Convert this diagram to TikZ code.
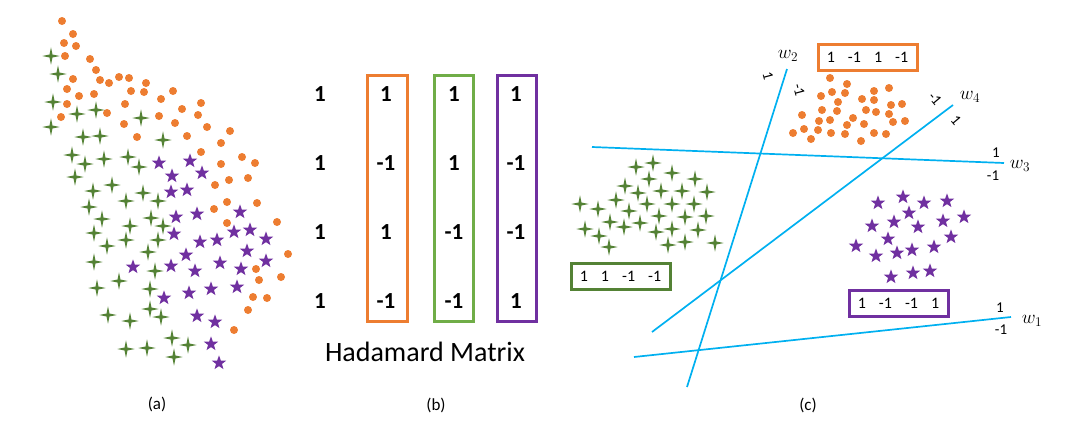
\documentclass[tikz,border=0pt]{standalone}
\usepackage{fix-cm}
\usepackage{fontspec}
\setmainfont{Carlito}
\definecolor{hadorange}{HTML}{ED7D31}
\definecolor{hadgreen}{HTML}{548235}
\definecolor{hadlgreen}{HTML}{70AD47}
\definecolor{hadpurple}{HTML}{7030A0}
\definecolor{hadblue}{HTML}{00B0F0}
\begin{document}
\begin{tikzpicture}[
  x=1pt,y=-1pt,
  dot/.style={fill=hadorange},
  sparkle/.pic={\fill[hadgreen] (0,8.7pt) -- (1.5pt,1.5pt) -- (8.7pt,0) -- (1.5pt,-1.5pt) -- (0,-8.7pt) -- (-1.5pt,-1.5pt) -- (-8.7pt,0) -- (-1.5pt,1.5pt) -- cycle;},
  pstar/.pic={\fill[hadpurple] (90:7.6pt) -- (126:3.1pt) -- (162:7.6pt) -- (198:3.1pt) -- (234:7.6pt) -- (270:3.1pt) -- (306:7.6pt) -- (342:3.1pt) -- (18:7.6pt) -- (54:3.1pt) -- cycle;},
  entry/.style={font=\fontsize{23}{26}\selectfont\bfseries,inner sep=0pt},
  colbox/.style={line width=3pt},
  sep/.style={hadblue,line width=1.7pt},
  sidelbl/.style={font=\fontsize{15}{17}\selectfont,inner sep=0pt},
  wlbl/.style={font=\fontsize{19}{21}\selectfont,inner sep=0pt},
  codebox/.style={line width=3pt,minimum width=99pt,minimum height=26pt,inner sep=0pt,font=\fontsize{16}{18}\selectfont},
  caption/.style={font=\fontsize{17}{19}\selectfont}
]
\useasboundingbox (0,0) rectangle (1080,429);

% (a) mixed classes
\foreach \x/\y in {62/21,73/34,64/43,76/46,65/56,90/59,96/70,73/79,100/80,109/83,119/77,129/78,146/83,67/89,79/96,94/94,131/91,144/92,161/99,173/91,67/104,125/104,182/109,201/103,61/117,107/113,159/116,198/115,124/124,175/123,207/127,230/131,137/137,187/136,221/143,201/152,242/157,255/163,221/164,229/180,248/178,215/185,227/202,257/203,214/209,277/222,227/223,288/254,256/269,259/280,281/277,253/297,267/298,248/310,234/330}
  \fill[dot] (\x,\y) circle (4pt);
\foreach \x/\y in {51/56,58/74,53/102,77/114,96/110,51/127,141/118,83/137,100/136,163/140,72/155,85/164,104/159,128/157,139/167,75/177,93/191,112/185,143/193,126/201,158/201,89/207,102/219,130/226,151/218,163/226,94/233,126/240,158/240,107/246,148/252,94/262,155/271,119/281,97/288,150/289,150/309,108/315,130/321,161/317,172/338,188/345,126/349,147/348,174/357}
  \pic at (\x,\y) {sparkle};
\foreach \x/\y in {159/163,190/161,172/176,202/173,171/192,187/190,240/212,176/217,197/214,174/234,234/232,250/230,200/242,217/240,266/239,186/255,247/251,133/267,171/266,195/271,220/263,241/269,266/261,237/287,189/293,211/289,164/298,197/316,215/322,211/344,219/363}
  \pic at (\x,\y) {pstar};
\node[caption] (capa) at (157,404) {(a)};

% (b) Hadamard matrix
\draw[colbox,hadorange] (367,75) rectangle (407,321);
\draw[colbox,hadlgreen] (434,75) rectangle (473,321);
\draw[colbox,hadpurple] (497,75) rectangle (536,321);
\foreach \r/\y/\a/\b/\c in {1/94/1/1/1,2/163/-1/1/-1,3/232/1/-1/-1,4/301/-1/-1/1} {
  \node[entry] (h\r) at (320,\y) {1};
  \node[entry] (ho\r) at (386,\y) {\a};
  \node[entry] (hg\r) at (454,\y) {\b};
  \node[entry] (hp\r) at (516,\y) {\c};
}
\node[font=\fontsize{28}{32}\selectfont,inner sep=0pt] (hadamard) at (425,352) {Hadamard Matrix};
\node[caption] (capb) at (436,405) {(b)};

% (c) separated classes
\foreach \x/\y in {830/78,847/84,832/92,845/93,821/96,838/102,862/99,874/91,889/88,874/100,891/105,902/104,822/110,837/111,866/110,876/112,889/114,802/115,853/118,819/121,830/120,893/122,905/121,847/125,864/124,804/129,818/130,793/133,831/133,845/134,874/133,886/134,811/139,861/141}
  \fill[dot] (\x,\y) circle (4pt);
\foreach \x/\y in {636/167,653/163,672/173,649/179,695/179,625/186,638/193,661/191,682/191,707/192,580/204,616/200,647/204,672/204,694/204,598/209,629/211,659/216,685/217,706/216,610/222,640/223,585/229,624/227,672/229,656/232,698/230,599/236,685/242,668/245,715/243,609/247}
  \pic at (\x,\y) {sparkle};
\foreach \x/\y in {903/197,878/203,924/203,947/201,909/213,964/217,872/226,894/222,918/227,943/221,888/239,951/237,856/246,876/256,897/253,912/250,934/247,891/277,913/273,930/271}
  \pic at (\x,\y) {pstar};

\coordinate (w1s) at (634,357); \coordinate (w1e) at (1011,317);
\coordinate (w2s) at (687,387); \coordinate (w2e) at (787,69);
\coordinate (w3s) at (592,147); \coordinate (w3e) at (1004,163);
\coordinate (w4s) at (652,332); \coordinate (w4e) at (953,105);
\draw[sep] (w1s) -- (w1e);
\draw[sep] (w2s) -- (w2e);
\draw[sep] (w3s) -- (w3e);
\draw[sep] (w4s) -- (w4e);

\node[wlbl] (w1) at (1032,321) {$w_1$};
\node[sidelbl] (w1p) at (1000,308) {1};
\node[sidelbl] (w1m) at (1001,330) {-1};
\node[wlbl] (w2) at (788,56) {$w_2$};
\node[sidelbl,rotate=-75] (w2p) at (768,76) {1};
\node[sidelbl,rotate=-75] (w2m) at (799,90) {-1};
\node[wlbl] (w3) at (1020,166) {$w_3$};
\node[sidelbl] (w3p) at (996,153) {1};
\node[sidelbl] (w3m) at (993,176) {-1};
\node[wlbl] (w4) at (970,97) {$w_4$};
\node[sidelbl,rotate=-50] (w4m) at (935,99) {-1};
\node[sidelbl,rotate=-50] (w4p) at (956,120) {1};

\node[codebox,draw=hadorange] (codeo) at (867.5,57) {1\hspace{13pt}-1\hspace{13pt}1\hspace{13pt}-1};
\node[codebox,draw=hadgreen] (codeg) at (620.5,276.5) {1\hspace{13pt}1\hspace{13pt}-1\hspace{13pt}-1};
\node[codebox,draw=hadpurple] (codep) at (898.5,303) {1\hspace{13pt}-1\hspace{13pt}-1\hspace{13pt}1};
\node[caption] (capc) at (808,405) {(c)};
\end{tikzpicture}
\end{document}
